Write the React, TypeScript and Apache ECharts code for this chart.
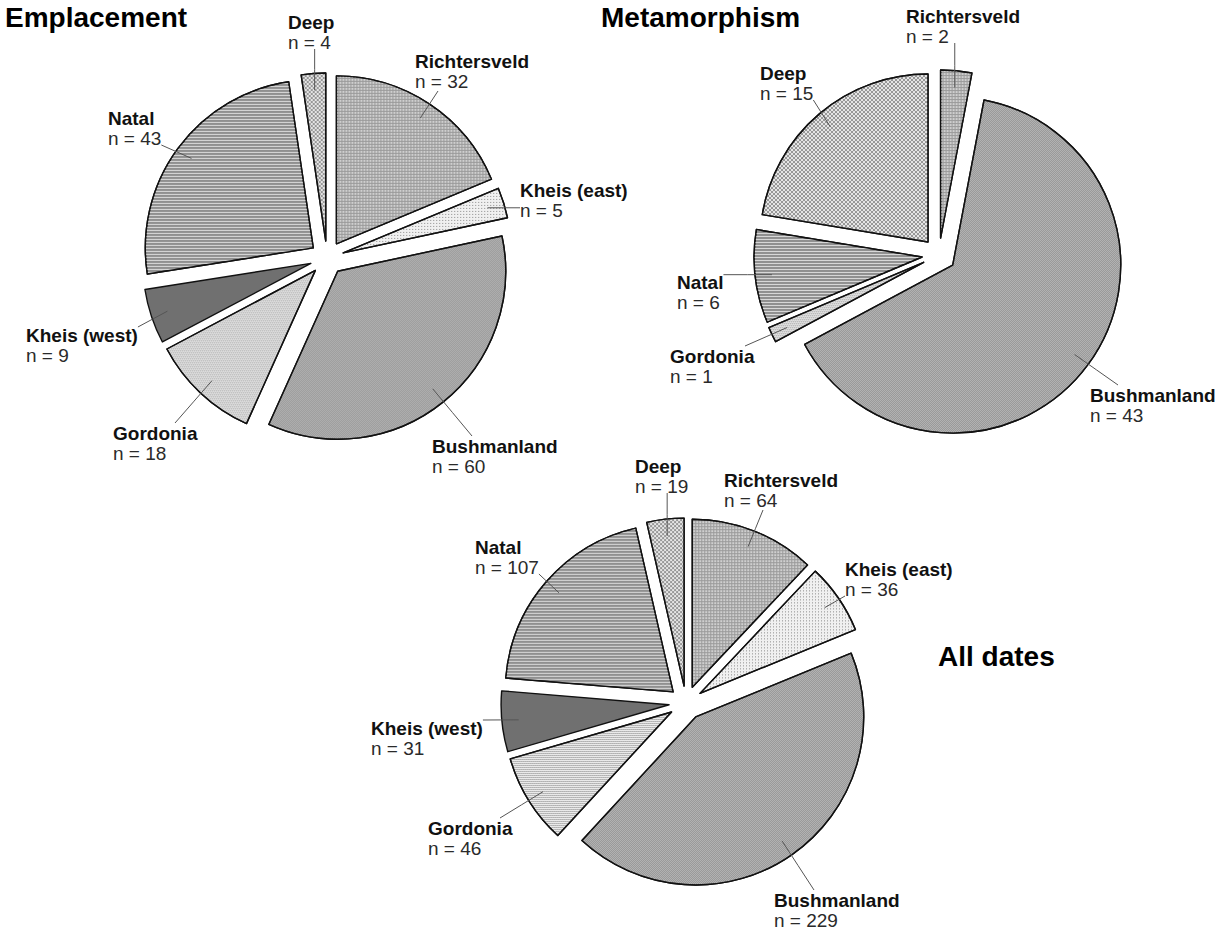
import React, { useEffect, useRef } from "react";
import * as echarts from "echarts";

// ---------- data ----------
const emplacementNames = ["Richtersveld", "Kheis (east)", "Bushmanland", "Gordonia", "Kheis (west)", "Natal", "Deep"];
const emplacementCounts = [32, 5, 60, 18, 9, 43, 4];

const metamorphismNames = ["Richtersveld", "Bushmanland", "Gordonia", "Natal", "Deep"];
const metamorphismCounts = [2, 43, 1, 6, 15];

const allDatesNames = ["Richtersveld", "Kheis (east)", "Bushmanland", "Gordonia", "Kheis (west)", "Natal", "Deep"];
const allDatesCounts = [64, 36, 229, 46, 31, 107, 19];

const panelTitles = ["Emplacement", "Metamorphism", "All dates"];

// ---------- layout ----------
const CENTERS: number[][] = [[327, 258], [939, 255], [686, 703]];
const RADIUS = 168;
const EXPLODE = 17;
const TITLE_POS: number[][] = [[5, 3], [601, 3], [938, 642]];
// top-left of each label block, in slice order
const LABEL_POS: number[][][] = [
  [[415, 51], [520, 180], [432, 436], [113, 423], [26, 325], [108, 108], [288, 12]],
  [[906, 6], [1090, 385], [670, 346], [677, 272], [760, 63]],
  [[724, 470], [845, 559], [774, 890], [428, 818], [371, 718], [475, 537], [635, 456]],
];
// optional leader-line attach point, offset from the label's top-left (null = nearest edge point)
const LABEL_ANCHOR: (number[] | null)[][] = [
  [[23, 40], null, [40, 0], [62, 0], null, null, null],
  [null, [28, 0], [75, 0], null, null],
  [[39, 40], null, [40, 0], [72, 0], null, null, null],
];

// ---------- styles ----------
const FONT = "Liberation Sans, Arial, sans-serif";
const sliceStyles: Record<string, any> = {
  "Richtersveld": { color: "#9a9a9a", decal: { symbol: "rect", symbolSize: 1, dashArrayX: [2, 1], dashArrayY: [2, 1], color: "#cfcfcf" } },
  "Kheis (east)": { color: "#f0f0f0", decal: { symbol: "rect", symbolSize: 1, dashArrayX: [1, 2], dashArrayY: [1, 2], color: "#8c8c8c" } },
  "Bushmanland": { color: "#c6c6c6", decal: { symbol: "rect", symbolSize: 1, dashArrayX: [[1, 1], [0, 1, 1, 0]], dashArrayY: [1, 0], color: "#868686" } },
  "Gordonia": { color: "#ebebeb", decal: { symbol: "rect", symbolSize: 1, dashArrayX: [[1, 1], [0, 1, 1, 0]], dashArrayY: [1, 1], color: "#7e7e7e" } },
  "Kheis (west)": { color: "#707070", decal: null },
  "Natal": { color: "#909090", decal: { symbol: "rect", symbolSize: 1, dashArrayX: [1, 0], dashArrayY: [1, 2], color: "#d8d8d8" } },
  "Deep": { color: "#e6e6e6", decal: { symbol: "rect", symbolSize: 1, dashArrayX: [[2, 2], [0, 2, 2, 0]], dashArrayY: [2, 0], color: "#969696" } },
};

const panels = [
  { names: emplacementNames, counts: emplacementCounts },
  { names: metamorphismNames, counts: metamorphismCounts },
  { names: allDatesNames, counts: allDatesCounts },
];

function midAngles(values: number[]): number[] {
  const total = values.reduce((a, b) => a + b, 0);
  let acc = 0;
  return values.map((v) => {
    const a = ((acc + v / 2) / total) * Math.PI * 2;
    acc += v;
    return a;
  });
}

function innerPoint(pi: number, i: number): number[] {
  const a = midAngles(panels[pi].counts)[i];
  const c = CENTERS[pi];
  const ox = c[0] + EXPLODE * Math.sin(a);
  const oy = c[1] - EXPLODE * Math.cos(a);
  return [ox + RADIUS * 0.9 * Math.sin(a), oy - RADIUS * 0.9 * Math.cos(a)];
}

const clamp = (v: number, lo: number, hi: number) => Math.max(lo, Math.min(hi, v));

// exploded slices (no labels)
function sliceSeries(pi: number) {
  const p = panels[pi];
  return {
    type: "pie",
    z: 2,
    center: CENTERS[pi],
    radius: RADIUS,
    startAngle: 90,
    clockwise: true,
    selectedMode: "multiple",
    selectedOffset: EXPLODE,
    avoidLabelOverlap: false,
    silent: true,
    emphasis: { disabled: true, scale: false },
    label: { show: false },
    labelLine: { show: false },
    data: p.names.map((n, i) => {
      const st = sliceStyles[n];
      const itemStyle: any = { color: st.color, borderColor: "#111", borderWidth: 1.4 };
      if (st.decal) itemStyle.decal = st.decal;
      return { name: n, value: p.counts[i], selected: true, itemStyle, select: { itemStyle } };
    }),
  };
}

// transparent overlay carrying the labels and leader lines
function labelSeries(pi: number) {
  const p = panels[pi];
  return {
    type: "pie",
    z: 5,
    center: CENTERS[pi],
    radius: RADIUS,
    startAngle: 90,
    clockwise: true,
    selectedMode: false,
    avoidLabelOverlap: false,
    silent: true,
    emphasis: { disabled: true, scale: false },
    itemStyle: { color: "rgba(0,0,0,0)", borderWidth: 0 },
    label: {
      show: true,
      position: "outside",
      formatter: (q: any) => `{b|${q.name}}\n{n|n = ${q.value}}`,
      rich: {
        b: { fontFamily: FONT, fontSize: 19, fontWeight: "bold", color: "#111", lineHeight: 20 },
        n: { fontFamily: FONT, fontSize: 19, color: "#2a2a2a", lineHeight: 20 },
      },
    },
    labelLine: { show: true, lineStyle: { color: "#555", width: 1 } },
    labelLayout: (q: any) => {
      const pos = LABEL_POS[pi][q.dataIndex];
      const anchor = LABEL_ANCHOR[pi][q.dataIndex];
      const w = q.labelRect.width;
      const h = q.labelRect.height;
      const ip = innerPoint(pi, q.dataIndex);
      let ax: number;
      let ay: number;
      if (anchor) {
        ax = pos[0] + anchor[0];
        ay = pos[1] + anchor[1];
      } else {
        ax = clamp(ip[0], pos[0], pos[0] + w);
        ay = clamp(ip[1], pos[1] + 2, pos[1] + h - 2);
      }
      return {
        x: pos[0],
        y: pos[1],
        align: "left",
        verticalAlign: "top",
        labelLinePoints: [ip, [(ip[0] + ax) / 2, (ip[1] + ay) / 2], [ax, ay]],
      };
    },
    data: p.names.map((n, i) => ({ name: n, value: p.counts[i] })),
  };
}

export default function App() {
  const ref = useRef<HTMLDivElement>(null);
  useEffect(() => {
    if (!ref.current) return;
    const chart = echarts.init(ref.current, null, { renderer: "svg" });
    chart.setOption({
      animation: false,
      backgroundColor: "#ffffff",
      title: panelTitles.map((t, i) => ({
        text: t,
        left: TITLE_POS[i][0],
        top: TITLE_POS[i][1],
        padding: 0,
        textStyle: { fontFamily: FONT, fontSize: 28, fontWeight: "bold", color: "#000" },
      })),
      series: [
        sliceSeries(0), sliceSeries(1), sliceSeries(2),
        labelSeries(0), labelSeries(1), labelSeries(2),
      ],
    });
    return () => chart.dispose();
  }, []);
  return (
    <div
      ref={ref}
      style={{ position: "absolute", left: 0, top: 0, width: 1226, height: 932 }}
    />
  );
}
